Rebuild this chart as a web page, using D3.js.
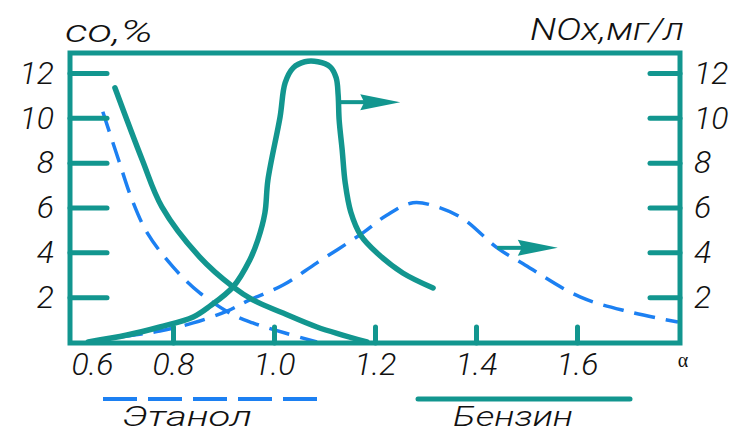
<!DOCTYPE html>
<html>
<head>
<meta charset="utf-8">
<script src="https://cdn.jsdelivr.net/npm/d3@7"></script>
<style>
  body { margin: 0; background: #fff; }
  text { font-family: Roboto, "DejaVu Sans", sans-serif; font-style: italic; font-weight: 300; fill: #111; }
</style>
</head>
<body>
<svg id="plot" width="737" height="434"></svg>
<script>
const TEAL = "#12968f";
const BLUE = "#1c80f2";

// benzin (solid), CO %
const BENZIN_CO_A = [0.685, 0.739, 0.778, 0.853, 0.919, 0.958, 1.018, 1.085, 1.184];
const BENZIN_CO_V = [11.34, 8.13, 6.03, 3.79, 2.46, 1.88, 1.29, 0.67, 0.0];

// ethanol (dashed), CO %
const ETHANOL_CO_A = [0.661, 0.691, 0.719, 0.749, 0.8, 0.853, 0.919, 0.958, 1.022, 1.085];
const ETHANOL_CO_V = [10.27, 8.21, 6.34, 4.87, 3.35, 2.19, 1.21, 0.85, 0.4, 0.0];

// benzin (solid), NOx mg/l
const BENZIN_NOX_A = [0.632, 0.709, 0.774, 0.84, 0.873, 0.919, 0.952, 0.968, 0.982, 0.988, 1.012, 1.022,
  1.038, 1.061, 1.087, 1.111, 1.123, 1.127, 1.129, 1.135, 1.141, 1.152, 1.172, 1.204, 1.255, 1.315];
const BENZIN_NOX_V = [0.0, 0.31, 0.67, 1.12, 1.6, 2.46, 3.66, 4.55, 5.76, 7.23, 10.04, 11.56,
  12.23, 12.5, 12.5, 12.28, 11.79, 11.03, 9.91, 8.57, 7.1, 5.8, 4.75, 3.97, 3.08, 2.41];

// ethanol (dashed), NOx mg/l
const ETHANOL_NOX_A = [0.636, 0.709, 0.774, 0.84, 0.907, 0.952, 1.018, 1.085, 1.176, 1.224, 1.275, 1.323,
  1.374, 1.442, 1.497, 1.606, 1.705, 1.80];
const ETHANOL_NOX_V = [0.0, 0.27, 0.49, 0.85, 1.38, 1.88, 2.54, 3.53, 4.87, 5.67, 6.21, 6.03,
  5.5, 4.2, 3.44, 2.01, 1.34, 0.89];

// arrows pointing to the NOx axis: [start alpha, tip alpha, value]
const ARROWS = [[1.131, 1.25, 10.7], [1.442, 1.562, 4.2]];

const Y_TICKS = [2, 4, 6, 8, 10, 12];
const X_TICKS = [0.6, 0.8, 1.0, 1.2, 1.4, 1.6];
const LEGEND = ["Этанол", "Бензин"];

const svg = d3.select("#plot");
const x = d3.scaleLinear().domain([0.6, 1.8]).range([72, 678]);
const y = d3.scaleLinear().domain([0, 12]).range([342, 73]);

const zip = (a, v) => a.map((d, i) => [d, v[i]]);
const line = d3.line()
  .x(d => x(d[0]))
  .y(d => y(d[1]))
  .curve(d3.curveCatmullRom.alpha(0.5));

// curves
svg.append("path").datum(zip(ETHANOL_CO_A, ETHANOL_CO_V))
  .attr("d", line).attr("fill", "none").attr("stroke", BLUE)
  .attr("stroke-width", 3.5).attr("stroke-dasharray", "21,11");
svg.append("path").datum(zip(ETHANOL_NOX_A, ETHANOL_NOX_V))
  .attr("d", line).attr("fill", "none").attr("stroke", BLUE)
  .attr("stroke-width", 3.5).attr("stroke-dasharray", "21,11");
svg.append("path").datum(zip(BENZIN_CO_A, BENZIN_CO_V))
  .attr("d", line).attr("fill", "none").attr("stroke", TEAL)
  .attr("stroke-width", 5.5).attr("stroke-linecap", "round");
svg.append("path").datum(zip(BENZIN_NOX_A, BENZIN_NOX_V))
  .attr("d", line).attr("fill", "none").attr("stroke", TEAL)
  .attr("stroke-width", 5.5).attr("stroke-linecap", "round");

// arrows
ARROWS.forEach(([a0, a1, v]) => {
  const tip = x(a1), yy = y(v);
  svg.append("line")
    .attr("x1", x(a0)).attr("x2", tip - 30).attr("y1", yy).attr("y2", yy)
    .attr("stroke", TEAL).attr("stroke-width", 4);
  svg.append("path")
    .attr("d", `M${tip},${yy} L${tip - 40},${yy - 8} L${tip - 36},${yy} L${tip - 40},${yy + 8} Z`)
    .attr("fill", TEAL);
});

// frame
svg.append("rect")
  .attr("x", 70).attr("y", 53).attr("width", 610).attr("height", 290)
  .attr("fill", "none").attr("stroke", TEAL).attr("stroke-width", 5);

// axes
const styleAxis = g => {
  g.select(".domain").remove();
  g.selectAll(".tick line").attr("stroke", TEAL).attr("stroke-width", 5).attr("stroke-linecap", "round");
  g.selectAll(".tick text").attr("font-size", 32).attr("fill", "#111")
    .style("font-family", "Roboto, 'DejaVu Sans', sans-serif").style("font-style", "italic").style("font-weight", 300);
  g.attr("font-family", null).attr("font-size", null);
};

svg.append("g").attr("transform", "translate(70,0)")
  .call(d3.axisLeft(y).tickValues(Y_TICKS).tickSizeInner(-37).tickSizeOuter(0).tickPadding(16))
  .call(styleAxis);

svg.append("g").attr("transform", "translate(680,0)")
  .call(d3.axisRight(y).tickValues(Y_TICKS).tickSizeInner(-30).tickSizeOuter(0).tickPadding(14))
  .call(styleAxis);

const xAxis = svg.append("g").attr("transform", "translate(0,343)")
  .call(d3.axisBottom(x).tickValues(X_TICKS).tickFormat(d3.format(".1f"))
    .tickSizeInner(-16).tickSizeOuter(0).tickPadding(9))
  .call(styleAxis);
xAxis.selectAll(".tick").filter(d => d === 0.6).select("line").remove();
xAxis.selectAll(".tick").filter(d => d === 0.6).select("text").attr("dx", 20);

// axis titles
svg.append("text").attr("x", 65).attr("y", 42).attr("font-size", 32)
  .attr("textLength", 88).attr("lengthAdjust", "spacingAndGlyphs").text("co,%");
svg.append("text").attr("x", 530).attr("y", 40).attr("font-size", 32)
  .attr("textLength", 154).attr("lengthAdjust", "spacingAndGlyphs").text("NOx,мг/л");
svg.append("text").attr("x", 683).attr("y", 367).attr("font-size", 20)
  .attr("text-anchor", "middle")
  .style("font-family", "'Liberation Serif', serif").style("font-style", "normal").style("font-weight", 400)
  .text("α");

// legend
svg.append("line").attr("x1", 103).attr("x2", 320).attr("y1", 399).attr("y2", 399)
  .attr("stroke", BLUE).attr("stroke-width", 4).attr("stroke-dasharray", "34,11");
svg.append("line").attr("x1", 418).attr("x2", 630).attr("y1", 399).attr("y2", 399)
  .attr("stroke", TEAL).attr("stroke-width", 5).attr("stroke-linecap", "round");
svg.append("text").attr("x", 122).attr("y", 426).attr("font-size", 28)
  .attr("textLength", 130).attr("lengthAdjust", "spacingAndGlyphs").text(LEGEND[0]);
svg.append("text").attr("x", 453).attr("y", 426).attr("font-size", 28)
  .attr("textLength", 120).attr("lengthAdjust", "spacingAndGlyphs").text(LEGEND[1]);
</script>
</body>
</html>
